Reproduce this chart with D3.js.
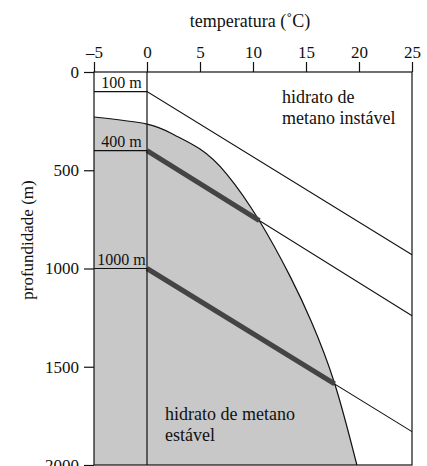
<!DOCTYPE html>
<html>
<head>
<meta charset="utf-8">
<script src="https://cdn.jsdelivr.net/npm/d3@7"></script>
<style>
  body { margin: 0; background: #fff; }
  svg text { font-family: "Liberation Serif", "DejaVu Serif", serif; fill: #111; }
</style>
</head>
<body>
<svg id="chart" width="427" height="466"></svg>
<script>
// temperature ticks (°C) and depth ticks (m)
const xTicks = [-5, 0, 5, 10, 15, 20, 25];
const yTicks = [0, 500, 1000, 1500, 2000];

// stability boundary of methane hydrate: temperature, depth
const boundaryT = [-5, 0, 2.5, 5, 7.5, 10.6, 13.5, 15.5, 17.7, 19.8];
const boundaryD = [229, 265, 318, 392, 518, 757, 1040, 1270, 1585, 2000];

// water column profiles: surface depth, depth reached at 25 °C, temperature where it meets the boundary
const profileDepth = [100, 400, 1000];
const profileEnd = [930, 1240, 1830];
const profileCrossT = [null, 10.6, 17.7];
const profileLabels = ['100 m', '400 m', '1000 m'];

const svg = d3.select('#chart');

const x = d3.scaleLinear().domain([-5, 25]).range([94, 412]);
const y = d3.scaleLinear().domain([0, 2000]).range([72, 465]);

const boundary = boundaryT.map((t, i) => [t, boundaryD[i]]);
const curveGen = d3.line()
  .x(d => x(d[0]))
  .y(d => y(d[1]))
  .curve(d3.curveNatural);

// gray stable area
svg.append('path')
  .attr('d', `M${x(-5)},${y(2000)}` + curveGen(boundary).replace('M', 'L') + 'Z')
  .attr('fill', '#c8c8c8')
  .attr('stroke', 'none');

svg.append('path')
  .attr('d', curveGen(boundary))
  .attr('fill', 'none')
  .attr('stroke', '#111')
  .attr('stroke-width', 1.2);

// profiles
const straight = d3.line().x(p => x(p[0])).y(p => y(p[1]));
profileDepth.forEach((d, i) => {
  svg.append('path')
    .attr('d', straight([[-5, d], [0, d], [25, profileEnd[i]]]))
    .attr('fill', 'none')
    .attr('stroke', '#111')
    .attr('stroke-width', 1.1);

  if (profileCrossT[i] !== null) {
    const t = profileCrossT[i];
    const dEnd = d + (profileEnd[i] - d) * t / 25;
    svg.append('path')
      .attr('d', straight([[0, d], [t, dEnd]]))
      .attr('stroke', '#444')
      .attr('stroke-width', 5);
  }

  svg.append('text')
    .attr('x', (x(-5) + x(0)) / 2 + 1)
    .attr('y', y(d) - 4)
    .attr('text-anchor', 'middle')
    .style('font-size', '16px')
    .text(profileLabels[i]);
});

// frame and 0 °C line
svg.append('rect')
  .attr('x', x(-5)).attr('y', y(0))
  .attr('width', x(25) - x(-5)).attr('height', y(2000) - y(0))
  .attr('fill', 'none').attr('stroke', '#111').attr('stroke-width', 1.2);
svg.append('line')
  .attr('x1', x(0)).attr('x2', x(0)).attr('y1', y(0)).attr('y2', y(2000))
  .attr('stroke', '#111').attr('stroke-width', 1.2);

// axes
const xAxis = svg.append('g')
  .attr('transform', `translate(0,${y(0)})`)
  .call(d3.axisTop(x).tickValues(xTicks).tickSize(10).tickPadding(4)
    .tickFormat(d => d < 0 ? '\u2013' + Math.abs(d) : d));
const yAxis = svg.append('g')
  .attr('transform', `translate(${x(-5)},0)`)
  .call(d3.axisLeft(y).tickValues(yTicks).tickSize(10).tickPadding(5)
    .tickFormat(d3.format('d')));

[xAxis, yAxis].forEach(g => {
  g.attr('font-size', 17).attr('font-family', '"Liberation Serif", serif');
  g.select('.domain').remove();
  g.selectAll('.tick line').attr('stroke', '#111').attr('stroke-width', 1.2);
  g.selectAll('.tick text')
    .style('font-size', '17px')
    .attr('fill', '#111');
});

// titles
svg.append('text')
  .attr('x', 250).attr('y', 27)
  .attr('text-anchor', 'middle')
  .style('font-size', '18px')
  .text('temperatura (˚C)');

svg.append('text')
  .attr('transform', 'translate(33,240) rotate(-90)')
  .attr('text-anchor', 'middle')
  .style('font-size', '17px')
  .text('profundidade (m)');

// region notes
const unstable = svg.append('text').style('font-size', '18px');
unstable.append('tspan').attr('x', 282).attr('y', 103).text('hidrato de');
unstable.append('tspan').attr('x', 282).attr('y', 124).text('metano instável');

const stable = svg.append('text').style('font-size', '18px');
stable.append('tspan').attr('x', 165).attr('y', 420).text('hidrato de metano');
stable.append('tspan').attr('x', 165).attr('y', 441).text('estável');
</script>
</body>
</html>
